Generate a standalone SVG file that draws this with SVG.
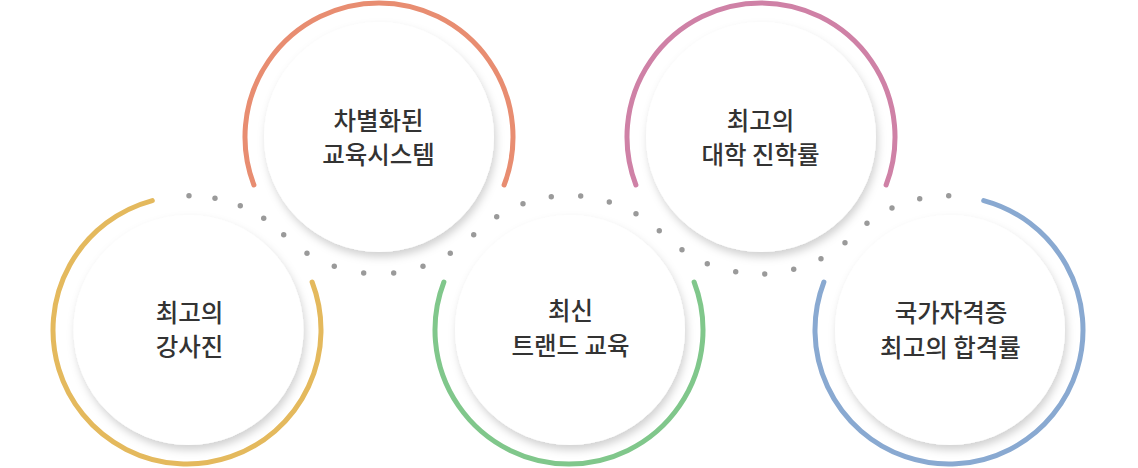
<svg xmlns="http://www.w3.org/2000/svg" width="1138" height="468" viewBox="0 0 1138 468">
<defs>
<filter id="sh" x="-20%" y="-20%" width="140%" height="140%">
<feDropShadow dx="2" dy="5" stdDeviation="4" flood-color="#000" flood-opacity="0.18"/>
</filter>
</defs>
<style>
.ring{fill:none;stroke-width:5;stroke-linecap:round}
.inner{fill:#fff;filter:url(#sh)}
.dot{fill:#9a9a9a}
text{font-family:"Noto Sans CJK KR","Noto Sans",sans-serif;font-size:24.5px;font-weight:500;fill:#333;text-anchor:middle}
</style>
<rect width="1138" height="468" fill="#fff"/>
<g id="connectors">
<circle class="dot" cx="189" cy="195.7" r="2.7"/>
<circle class="dot" cx="215" cy="198.3" r="2.7"/>
<circle class="dot" cx="240.3" cy="205.7" r="2.7"/>
<circle class="dot" cx="263.7" cy="218.3" r="2.7"/>
<circle class="dot" cx="283.7" cy="234.7" r="2.7"/>
<circle class="dot" cx="307" cy="253.3" r="2.7"/>
<circle class="dot" cx="334.3" cy="266.3" r="2.7"/>
<circle class="dot" cx="363.7" cy="273" r="2.7"/>
<circle class="dot" cx="393.7" cy="273" r="2.7"/>
<circle class="dot" cx="423" cy="266.3" r="2.7"/>
<circle class="dot" cx="450.3" cy="253.3" r="2.7"/>
<circle class="dot" cx="473.7" cy="234.7" r="2.7"/>
<circle class="dot" cx="496.7" cy="216.7" r="2.7"/>
<circle class="dot" cx="523" cy="203.7" r="2.7"/>
<circle class="dot" cx="551.3" cy="196.7" r="2.7"/>
<circle class="dot" cx="580.7" cy="196" r="2.7"/>
<circle class="dot" cx="609.3" cy="202" r="2.7"/>
<circle class="dot" cx="636" cy="213.7" r="2.7"/>
<circle class="dot" cx="659.3" cy="230.7" r="2.7"/>
<circle class="dot" cx="682" cy="249.7" r="2.7"/>
<circle class="dot" cx="707.3" cy="263.7" r="2.7"/>
<circle class="dot" cx="735.7" cy="271.7" r="2.7"/>
<circle class="dot" cx="764.7" cy="274" r="2.7"/>
<circle class="dot" cx="793.7" cy="269.3" r="2.7"/>
<circle class="dot" cx="821" cy="258.7" r="2.7"/>
<circle class="dot" cx="845" cy="242.7" r="2.7"/>
<circle class="dot" cx="867" cy="223.3" r="2.7"/>
<circle class="dot" cx="892" cy="208" r="2.7"/>
<circle class="dot" cx="919.7" cy="198.7" r="2.7"/>
<circle class="dot" cx="948.7" cy="195.7" r="2.7"/>
</g>
<g id="node1">
<path class="ring" stroke="#e4b95d" d="M 312.1 282 A 134 134 0 1 1 152.3 200.6"/>
<circle class="inner" cx="188.5" cy="330" r="115"/>
<text x="189.5" y="321.5">최고의</text>
<text x="189.5" y="356">강사진</text>
</g>
<g id="node2">
<path class="ring" stroke="#e88d71" d="M 253.9 185 A 134 134 0 1 1 504.1 185"/>
<circle class="inner" cx="379" cy="137" r="115"/>
<text x="378.5" y="129.5">차별화된</text>
<text x="378.5" y="164">교육시스템</text>
</g>
<g id="node3">
<path class="ring" stroke="#80c78b" d="M 694.1 282 A 134 134 0 1 1 443.9 282"/>
<circle class="inner" cx="570" cy="330" r="115"/>
<text x="570.5" y="319.5">최신</text>
<text x="570.5" y="355">트랜드 교육</text>
</g>
<g id="node4">
<path class="ring" stroke="#cf81a6" d="M 635.9 185 A 134 134 0 1 1 886.1 185"/>
<circle class="inner" cx="761" cy="137" r="115"/>
<text x="760.5" y="129.5">최고의</text>
<text x="760.5" y="164">대학 진학률</text>
</g>
<g id="node5">
<path class="ring" stroke="#89a9d1" d="M 983.7 200.6 A 134 134 0 1 1 823.9 282"/>
<circle class="inner" cx="950" cy="330" r="115"/>
<text x="951" y="321.5">국가자격증</text>
<text x="950.5" y="357">최고의 합격률</text>
</g>
</svg>
